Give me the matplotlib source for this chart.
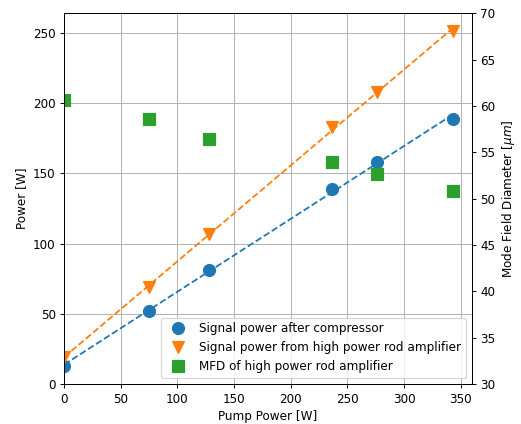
import numpy as np
import matplotlib
matplotlib.use('Agg')
import matplotlib.pyplot as plt

pump = [0, 75, 128, 236, 276, 343]
p_compressor = [13, 52, 81, 139, 158, 189]
p_rod = [19, 69, 107, 183, 208, 251]
mfd = [60.6, 58.6, 56.4, 53.9, 52.7, 50.8]

fit_c = np.polyfit(pump, p_compressor, 1)
fit_r = np.polyfit(pump, p_rod, 1)
xfit = np.array([pump[0], pump[-1]])

dpi = 86
fig, ax = plt.subplots(figsize=(521 / dpi, 424 / dpi), dpi=dpi)
fig.subplots_adjust(left=0.123, right=0.906, bottom=0.094, top=0.969)

l1, = ax.plot(pump, p_compressor, 'o', color='C0', markersize=10, label='Signal power after compressor')
ax.plot(xfit, np.polyval(fit_c, xfit), '--', color='C0')
l2, = ax.plot(pump, p_rod, 'v', color='C1', markersize=10, label='Signal power from high power rod amplifier')
ax.plot(xfit, np.polyval(fit_r, xfit), '--', color='C1')
ax.set_xlim(0, 360)
ax.set_ylim(0, 264)
ax.set_xlabel('Pump Power [W]')
ax.set_ylabel('Power [W]')
ax.grid(True)

ax2 = ax.twinx()
l3, = ax2.plot(pump, mfd, 's', color='C2', markersize=10, label='MFD of high power rod amplifier')
ax2.set_ylim(30, 70)
ax2.set_ylabel(r'Mode Field Diameter [$\mu m$]')

ax2.legend(handles=[l1, l2, l3], loc='lower right')

plt.savefig('out.png', dpi=dpi)
